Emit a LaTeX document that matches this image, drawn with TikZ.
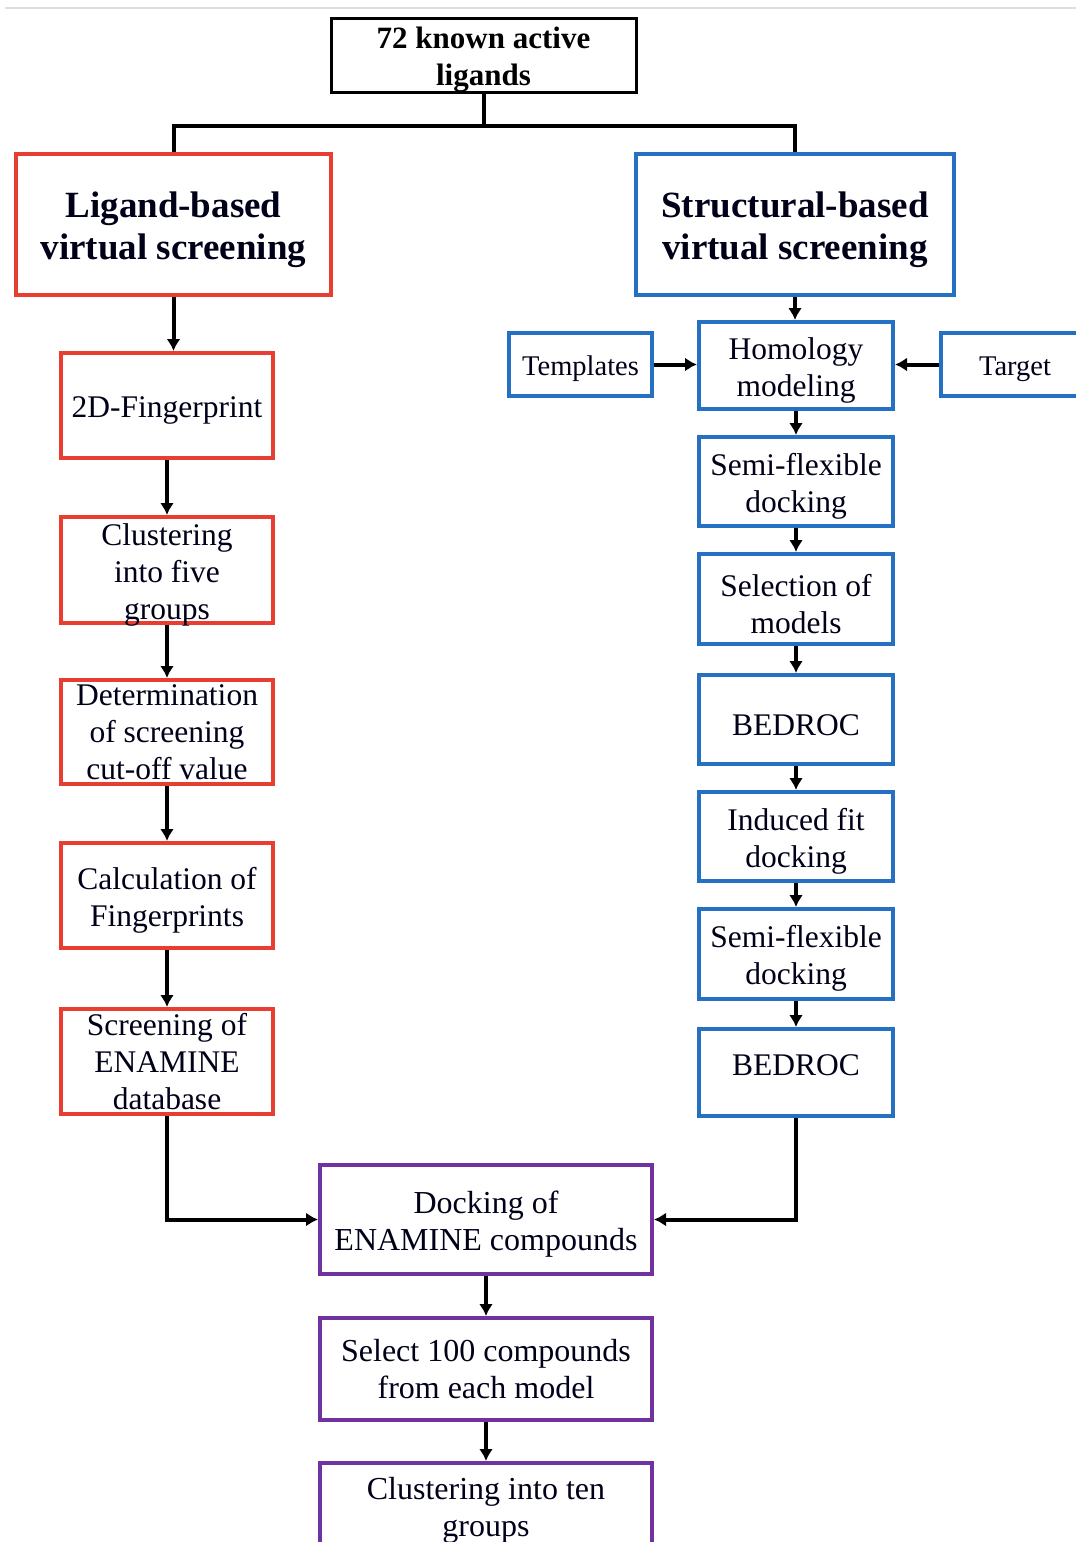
\documentclass[tikz,border=0pt]{standalone}
\usepackage{fontspec}
\setmainfont{Liberation Serif}
\usetikzlibrary{arrows.meta}
\definecolor{lbred}{RGB}{232,62,50}
\definecolor{sbblue}{RGB}{38,112,196}
\definecolor{dkpurple}{RGB}{112,50,160}
\definecolor{rulegray}{RGB}{222,222,222}
% a strut on the first line sets each label a little below the box centre
\newcommand{\fs}{\rule{0pt}{1.0em}}
\begin{document}
\begin{tikzpicture}[x=1pt,y=-1pt,
  box/.style={draw, line width=4pt, inner xsep=0pt, inner ysep=-6pt, align=center, text=black!90!blue},
  redbox/.style={box, draw=lbred, minimum width=212, font=\fontsize{31.5}{37}\selectfont},
  bluebox/.style={box, draw=sbblue, minimum width=194, font=\fontsize{31.5}{37}\selectfont},
  sidebox/.style={box, draw=sbblue, minimum height=63, font=\fontsize{28.5}{34}\selectfont},
  headbox/.style={box, minimum width=315, minimum height=141, font=\bfseries\fontsize{37}{42}\selectfont},
  purplebox/.style={box, draw=dkpurple, minimum width=332, font=\fontsize{32}{37}\selectfont},
  link/.style={line width=4pt, black},
  arr/.style={link, -{Latex[length=12pt,width=14pt]}}
]
\clip (0,0) rectangle (1076,1542);
\useasboundingbox (0,0) rectangle (1076,1542);

% thin rule along the top edge
\draw[rulegray, line width=2pt] (5,8) -- (1076,8);

% root
\node[box, draw=black, line width=3pt, minimum width=305, minimum height=74,
      font=\bfseries\fontsize{31}{37}\selectfont, text=black] (root) at (483.5,55)
      {\fs 72 known active\\ligands};

% the two branches
\node[headbox, draw=lbred] (lig) at (173.5,224.5) {\fs Ligand-based\\virtual screening};
\node[headbox, draw=sbblue, minimum width=318] (str) at (795,224.5) {\fs Structural-based\\virtual screening};

% ligand-based column
\node[redbox, minimum height=105] (fp)   at (167,405.5)  {\fs 2D-Fingerprint};
\node[redbox, minimum height=106] (clu)  at (167,570)    {\fs Clustering\\into five\\groups};
\node[redbox, minimum height=104] (det)  at (167,732)    {Determination\\of screening\\cut-off value};
\node[redbox, minimum height=105] (calc) at (167,895.5)  {\fs Calculation of\\Fingerprints};
\node[redbox, minimum height=105] (scr)  at (167,1061.5) {Screening of\\ENAMINE\\database};

% structure-based column
\node[bluebox, minimum height=87] (hom)  at (796,365.5)  {\fs Homology\\modeling};
\node[sidebox, minimum width=143] (tmp)  at (580.5,364.5) {\fs Templates};
\node[sidebox, minimum width=148] (tgt)  at (1015,364.5)  {\fs Target};
\node[bluebox, minimum height=89] (sf1)  at (796,481.5)  {\fs Semi-flexible\\docking};
\node[bluebox, minimum height=90] (sel)  at (796,599)    {\fs Selection of\\models};
\node[bluebox, minimum height=89] (bed1) at (796,719.5)  {\fs BEDROC};
\node[bluebox, minimum height=89] (ind)  at (796,836.5)  {\fs Induced fit\\docking};
\node[bluebox, minimum height=90] (sf2)  at (796,954)    {\fs Semi-flexible\\docking};
\node[bluebox, minimum height=87] (bed2) at (796,1072.5) {\raisebox{15pt}{BEDROC}};

% merged steps
\node[purplebox, minimum height=109] (dock) at (486,1219.5) {\fs Docking of\\ENAMINE compounds};
\node[purplebox, minimum height=102] (pick) at (486,1369)   {Select 100 compounds\\from each model};
\node[purplebox, minimum height=84]  (grp)  at (486,1505)   {\fs Clustering into ten\\groups};

% split from the root
\coordinate (split) at (root.south |- 0,126);
\draw[link] (root.south) -- (split);
\draw[link] (lig.north) -- (lig.north |- split) -- (str.north |- split) -- (str.north);

% ligand-based flow
\draw[arr] (lig.south) -- (lig.south |- fp.north);
\draw[arr] (fp.south) -- (clu.north);
\draw[arr] (clu.south) -- (det.north);
\draw[arr] (det.south) -- (calc.north);
\draw[arr] (calc.south) -- (scr.north);

% structure-based flow
\draw[arr] (str.south) -- (str.south |- hom.north);
\draw[arr] (tmp.east) -- (hom.west |- tmp.east);
\draw[arr] (tgt.west) -- (hom.east |- tgt.west);
\draw[arr] (hom.south) -- (sf1.north);
\draw[arr] (sf1.south) -- (sel.north);
\draw[arr] (sel.south) -- (bed1.north);
\draw[arr] (bed1.south) -- (ind.north);
\draw[arr] (ind.south) -- (sf2.north);
\draw[arr] (sf2.south) -- (bed2.north);

% both branches feed the docking step
\draw[arr] (scr.south) -- (scr.south |- dock.west) -- (dock.west);
\draw[arr] (bed2.south) -- (bed2.south |- dock.east) -- (dock.east);
\draw[arr] (dock.south) -- (pick.north);
\draw[arr] (pick.south) -- (grp.north);
\end{tikzpicture}
\end{document}
